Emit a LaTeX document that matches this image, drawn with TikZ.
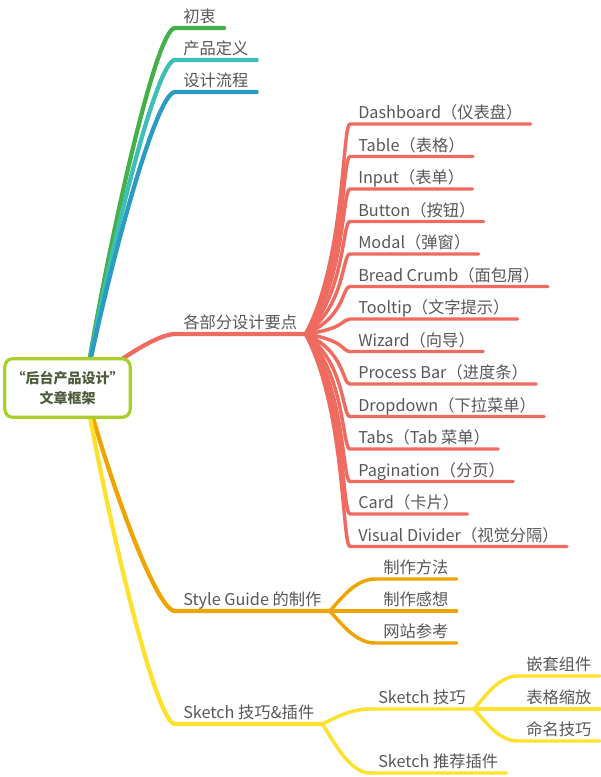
\documentclass[tikz,border=0pt]{standalone}
\usepackage{fontspec}
\setmainfont{Noto Sans CJK SC}
\usetikzlibrary{calc,backgrounds}

\definecolor{cgreen}{HTML}{45B04A}
\definecolor{cteal}{HTML}{3CBFB4}
\definecolor{cblue}{HTML}{2A9BC2}
\definecolor{cred}{HTML}{EF6A5F}
\definecolor{corange}{HTML}{EFA400}
\definecolor{cyellow}{HTML}{FDE12D}
\definecolor{croot}{HTML}{A8CF2C}
\definecolor{ctext}{HTML}{575757}
\definecolor{croottext}{HTML}{4D5A3B}

\begin{document}
\begin{tikzpicture}[x=0.75pt, y=-0.75pt,
        topic/.style={anchor=south west, inner xsep=6pt, inner ysep=3.8pt, text depth=0pt, text=ctext, font=\fontsize{12.2}{14}\selectfont},
        link/.style 2 args={to path={let \p1=(\tikztostart), \p2=(\tikztotarget) in
            .. controls (\x1+#1, {\y1+0.35*(\y2-(\y1))}) and (\x2-#2, \y2) .. (\tikztotarget) \tikztonodes}},
        main/.style={line width=3.2pt, line cap=round},
        sub/.style={line width=2.6pt, line cap=round}]
        \useasboundingbox (0,0) rectangle (600,777);

        % Root
        \node[draw=croot, line width=2.4pt, fill=white, rounded corners=6pt, minimum width=94pt, minimum height=44pt, align=center, text=croottext, font=\bfseries\fontsize{10.5}{15}\selectfont] (root) at (67.5,388) {“后台产品设计”\\文章框架};

        % Main topics
        \node[topic] (intent) at (175,28) {初衷};
        \node[topic] (define) at (175,60) {产品定义};
        \node[topic] (flow) at (175,92) {设计流程};
        \node[topic] (parts) at (175,334) {各部分设计要点};
        \node[topic] (guide) at (175,611) {Style Guide 的制作};
        \node[topic] (sketch) at (175,724) {Sketch 技巧\&插件};

        % Design points
        \node[topic] (dash) at (350,124) {Dashboard（仪表盘）};
        \node[topic] (table) at (350,156.5) {Table（表格）};
        \node[topic] (input) at (350,189) {Input（表单）};
        \node[topic] (button) at (350,221.5) {Button（按钮）};
        \node[topic] (modal) at (350,254) {Modal（弹窗）};
        \node[topic] (crumb) at (350,286.5) {Bread Crumb（面包屑）};
        \node[topic] (tooltip) at (350,319) {Tooltip（文字提示）};
        \node[topic] (wizard) at (350,351.5) {Wizard（向导）};
        \node[topic] (process) at (350,384) {Process Bar（进度条）};
        \node[topic] (dropdown) at (350,416.5) {Dropdown（下拉菜单）};
        \node[topic] (tabs) at (350,449) {Tabs（Tab 菜单）};
        \node[topic] (pages) at (350,481.5) {Pagination（分页）};
        \node[topic] (card) at (350,514) {Card（卡片）};
        \node[topic] (divider) at (350,546.5) {Visual Divider（视觉分隔）};

        % Style guide
        \node[topic] (method) at (375,579) {制作方法};
        \node[topic] (feeling) at (375,611) {制作感想};
        \node[topic] (refsite) at (375,643) {网站参考};

        % Sketch
        \node[topic] (tips) at (370,709) {Sketch 技巧};
        \node[topic] (plugins) at (370,773) {Sketch 推荐插件};
        \node[topic] (nested) at (518,676) {嵌套组件};
        \node[topic] (scale) at (518,709) {表格缩放};
        \node[topic] (naming) at (518,741) {命名技巧};

        \begin{scope}[on background layer]
        % Connections from root
        \draw[main, cgreen] ([xshift=13pt]root.center) to[link={15pt}{15pt}] (intent.south west) -- (intent.south east);
        \draw[main, cteal] ([xshift=13pt]root.center) to[link={15pt}{15pt}] (define.south west) -- (define.south east);
        \draw[main, cblue] ([xshift=13pt]root.center) to[link={15pt}{15pt}] (flow.south west) -- (flow.south east);
        \draw[main, cred] ([xshift=13pt]root.center) to[link={15pt}{15pt}] (parts.south west) -- (parts.south east);
        \draw[main, corange] ([xshift=13pt]root.center) to[link={15pt}{15pt}] (guide.south west) -- (guide.south east);
        \draw[main, cyellow] ([xshift=13pt]root.center) to[link={15pt}{15pt}] (sketch.south west) -- (sketch.south east);

        % Design points
        \draw[sub, cred] (parts.south east) to[link={30pt}{6pt}] (dash.south west) -- (dash.south east);
        \draw[sub, cred] (parts.south east) to[link={30pt}{6pt}] (table.south west) -- (table.south east);
        \draw[sub, cred] (parts.south east) to[link={30pt}{6pt}] (input.south west) -- (input.south east);
        \draw[sub, cred] (parts.south east) to[link={30pt}{6pt}] (button.south west) -- (button.south east);
        \draw[sub, cred] (parts.south east) to[link={30pt}{6pt}] (modal.south west) -- (modal.south east);
        \draw[sub, cred] (parts.south east) to[link={30pt}{6pt}] (crumb.south west) -- (crumb.south east);
        \draw[sub, cred] (parts.south east) to[link={30pt}{6pt}] (tooltip.south west) -- (tooltip.south east);
        \draw[sub, cred] (parts.south east) to[link={30pt}{6pt}] (wizard.south west) -- (wizard.south east);
        \draw[sub, cred] (parts.south east) to[link={30pt}{6pt}] (process.south west) -- (process.south east);
        \draw[sub, cred] (parts.south east) to[link={30pt}{6pt}] (dropdown.south west) -- (dropdown.south east);
        \draw[sub, cred] (parts.south east) to[link={30pt}{6pt}] (tabs.south west) -- (tabs.south east);
        \draw[sub, cred] (parts.south east) to[link={30pt}{6pt}] (pages.south west) -- (pages.south east);
        \draw[sub, cred] (parts.south east) to[link={30pt}{6pt}] (card.south west) -- (card.south east);
        \draw[sub, cred] (parts.south east) to[link={30pt}{6pt}] (divider.south west) -- (divider.south east);

        % Style guide
        \draw[sub, corange] (guide.south east) to[link={8pt}{15pt}] (method.south west) -- (method.south east);
        \draw[sub, corange] (guide.south east) -- (feeling.south west) -- (feeling.south east);
        \draw[sub, corange] (guide.south east) to[link={8pt}{15pt}] (refsite.south west) -- (refsite.south east);

        % Sketch
        \draw[sub, cyellow] (sketch.south east) to[link={8pt}{15pt}] (tips.south west) -- (tips.south east);
        \draw[sub, cyellow] (sketch.south east) to[link={8pt}{15pt}] (plugins.south west) -- (plugins.south east);
        \draw[sub, cyellow] (tips.south east) to[link={8pt}{15pt}] (nested.south west) -- (nested.south east);
        \draw[sub, cyellow] (tips.south east) -- (scale.south west) -- (scale.south east);
        \draw[sub, cyellow] (tips.south east) to[link={8pt}{15pt}] (naming.south west) -- (naming.south east);
        \end{scope}
    \end{tikzpicture}
\end{document}
